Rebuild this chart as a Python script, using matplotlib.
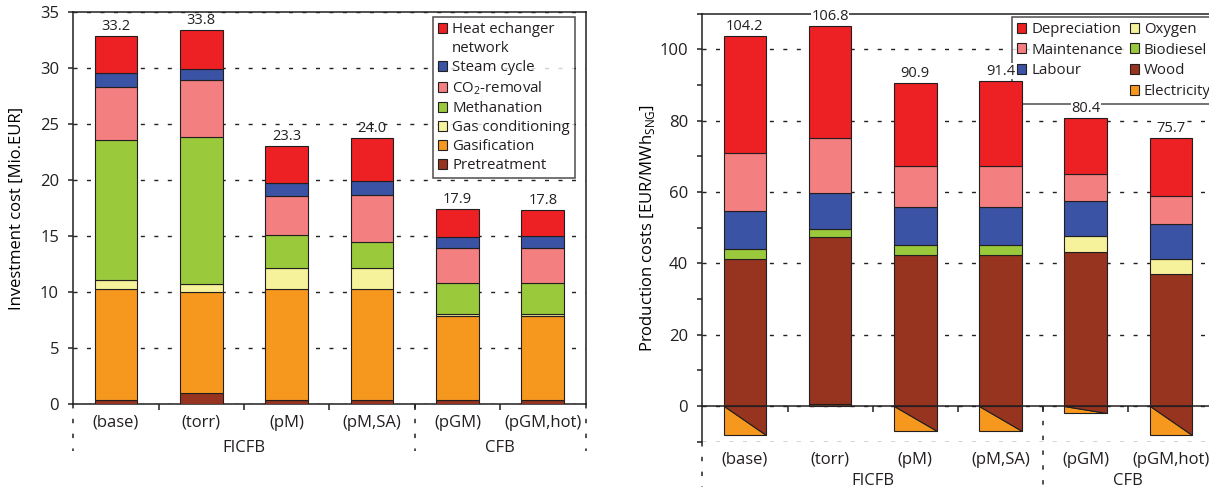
import matplotlib
matplotlib.use("Agg")
import matplotlib.pyplot as plt
import matplotlib.transforms as mtransforms
from matplotlib.patches import Patch
import numpy as np

plt.rcParams['font.family'] = ['Open Sans', 'DejaVu Sans']
plt.rcParams['text.color'] = '#231f20'
plt.rcParams['xtick.color'] = '#231f20'
plt.rcParams['ytick.color'] = '#231f20'
plt.rcParams['axes.edgecolor'] = '#231f20'

# ---- data ----
categories = ['(base)', '(torr)', '(pM)', '(pM,SA)', '(pGM)', '(pGM,hot)']
group_of = ['FICFB', 'FICFB', 'FICFB', 'FICFB', 'CFB', 'CFB']

# investment cost [Mio.EUR], stacked bottom -> top
pretreatment = [0.4, 1.05, 0.4, 0.4, 0.4, 0.4]
gasification = [9.9, 8.95, 9.9, 9.9, 7.5, 7.5]
gas_conditioning = [0.8, 0.75, 1.9, 1.9, 0.2, 0.2]
methanation = [12.5, 13.15, 2.9, 2.3, 2.7, 2.7]
co2_removal = [4.75, 5.05, 3.5, 4.15, 3.15, 3.15]
steam_cycle = [1.2, 1.0, 1.2, 1.25, 0.95, 1.05]
heat_exchanger = [3.35, 3.5, 3.25, 3.9, 2.55, 2.35]
invest_totals = ['33.2', '33.8', '23.3', '24.0', '17.9', '17.8']

# production costs [EUR/MWh_SNG], stacked bottom -> top
electricity = [0, 0.6, 0, 0, 0, 0]
wood = [41.3, 46.7, 42.4, 42.2, 43.1, 36.9]
oxygen = [0, 0, 0, 0, 4.6, 4.4]
biodiesel = [2.8, 2.3, 2.7, 2.9, 0, 0]
labour = [10.7, 10.1, 10.8, 10.6, 9.9, 9.8]
maintenance = [16.0, 15.5, 11.4, 11.7, 7.5, 7.8]
depreciation = [33.0, 31.4, 23.3, 23.7, 15.6, 16.3]
credit = [-8.2, 0, -7.1, -7.1, -1.9, -8.2]   # electricity / wood credit below zero
prod_totals = ['104.2', '106.8', '90.9', '91.4', '80.4', '75.7']

RED = '#ed2024'
BLUE = '#3a53a4'
PINK = '#f37f81'
GREEN = '#9aca3c'
YELLOW = '#f6f29b'
ORANGE = '#f6981e'
BROWN = '#97341f'
EDGE = '#231f20'

invest_stack = [(pretreatment, BROWN, 'Pretreatment'),
                (gasification, ORANGE, 'Gasification'),
                (gas_conditioning, YELLOW, 'Gas conditioning'),
                (methanation, GREEN, 'Methanation'),
                (co2_removal, PINK, 'CO$_\\mathregular{2}$-removal'),
                (steam_cycle, BLUE, 'Steam cycle'),
                (heat_exchanger, RED, 'Heat echanger')]

prod_stack = [(electricity, ORANGE, 'Electricity'),
              (wood, BROWN, 'Wood'),
              (oxygen, YELLOW, 'Oxygen'),
              (biodiesel, GREEN, 'Biodiesel'),
              (labour, BLUE, 'Labour'),
              (maintenance, PINK, 'Maintenance'),
              (depreciation, RED, 'Depreciation')]
prod_legend_order = ['Depreciation', 'Maintenance', 'Labour', '',
                     'Oxygen', 'Biodiesel', 'Wood', 'Electricity']

W = 0.5
DOT = (0, (2.9, 6.8))
FS = 12

fig = plt.figure(figsize=(12.09, 4.93), dpi=100)
ax1 = fig.add_axes([73.3/1209, (493-404.3)/493, 512.2/1209, 392/493])
ax2 = fig.add_axes([702.3/1209, (493-441.7)/493, 511.2/1209, 428.1/493])

x = np.arange(len(categories))
boundaries = x[:-1] + 0.5
group_names = list(dict.fromkeys(group_of))
group_centers = [np.mean([i for i, g in enumerate(group_of) if g == n]) for n in group_names]
group_breaks = [i + 0.5 for i in range(len(group_of) - 1) if group_of[i] != group_of[i+1]]


def style_axes(ax, xpad):
    ax.set_xlim(-0.5, len(categories) - 0.5)
    for s in ax.spines.values():
        s.set_linewidth(1.1)
    ax.set_xticks(x)
    ax.set_xticklabels(categories)
    ax.set_xticks(boundaries, minor=True)
    ax.tick_params(axis='x', which='major', length=0, pad=xpad, labelsize=FS)
    ax.tick_params(axis='x', which='minor', direction='out', length=4, width=1.1)
    ax.tick_params(axis='y', which='both', direction='out', length=3.8, width=1.1,
                   labelsize=FS, pad=6.5)
    ax.set_axisbelow(True)


def separators(ax, y_top, y_bot):
    tr = mtransforms.blended_transform_factory(ax.transData, ax.transAxes)
    for xs, yt in [(-0.5, y_bot[0])] + [(b, y_top) for b in group_breaks] + [(len(categories) - 0.5, y_top)]:
        ax.plot([xs, xs], [yt, y_bot[1]], transform=tr, color=EDGE, lw=1.1,
                ls=DOT, clip_on=False)
    for n, c in zip(group_names, group_centers):
        ax.text(c, y_bot[2], n, transform=tr, ha='center', va='center', fontsize=FS)


def legend_style(leg):
    leg.get_frame().set_edgecolor(EDGE)
    leg.get_frame().set_linewidth(1.1)


LEG_KW = dict(borderaxespad=0, fontsize=10.8, frameon=True, fancybox=False,
              handlelength=0.6, handleheight=0.65, handletextpad=0.35, borderpad=0.35)

# ---- left: investment cost ----
bottom = np.zeros(len(categories))
for vals, col, lab in invest_stack:
    ax1.bar(x, vals, W, bottom=bottom, color=col, edgecolor=EDGE, linewidth=0.8, zorder=3)
    bottom += np.array(vals)
for xi, top, t in zip(x, bottom, invest_totals):
    ax1.text(xi, top + 0.15, t, ha='center', va='bottom', fontsize=10.5, zorder=5)

ax1.set_ylim(0, 35)
ax1.set_yticks(range(0, 36, 5))
ax1.yaxis.grid(True, color=EDGE, lw=1.0, ls=DOT)
style_axes(ax1, 7.5)
ax1.set_ylabel('Investment cost [Mio.EUR]', fontsize=FS)
ax1.yaxis.set_label_coords(-0.094, 0.5)
separators(ax1, 0.0, (0.0, -0.118, -0.112))

h1 = [Patch(facecolor=c, edgecolor=EDGE, lw=0.8, label=l) for v, c, l in invest_stack[::-1]]
h1.insert(1, Patch(facecolor='none', edgecolor='none', label='network'))
leg1 = ax1.legend(handles=h1, loc='upper right', bbox_to_anchor=(0.9795, 0.9888),
                  labelspacing=0.27, **LEG_KW)
legend_style(leg1)

# ---- right: production costs ----
bottom = np.zeros(len(categories))
for vals, col, lab in prod_stack:
    v = np.array(vals, dtype=float)
    m = v > 0
    ax2.bar(x[m], v[m], W, bottom=bottom[m], color=col, edgecolor=EDGE, linewidth=0.8, zorder=3)
    bottom += v
for xi, c in zip(x, credit):
    if c < 0:
        l, r = xi - W/2, xi + W/2
        ax2.fill([l, l, r], [0, c, c], facecolor=ORANGE, edgecolor=EDGE, lw=0.8, zorder=3)
        ax2.fill([l, r, r], [0, 0, c], facecolor=BROWN, edgecolor=EDGE, lw=0.8, zorder=3)
for xi, top, t in zip(x, bottom, prod_totals):
    ax2.text(xi, top + 0.6, t, ha='center', va='bottom', fontsize=10.5, zorder=6,
             bbox=dict(facecolor='white', edgecolor='none', pad=0.3))

ax2.set_ylim(-10, 110)
ax2.set_yticks(range(0, 101, 20))
ax2.set_yticks(range(-10, 111, 20), minor=True)
ax2.yaxis.grid(True, which='major', color=EDGE, lw=1.0, ls=DOT)
ax2.axhline(-10, color=EDGE, lw=1.0, ls=DOT, zorder=0.5)
ax2.spines['bottom'].set_position(('data', 0))
ax2.spines['bottom'].set_zorder(4)
style_axes(ax2, 33)
ax2.set_ylabel('Production costs [EUR/MWh$_\\mathregular{SNG}$]', fontsize=FS)
ax2.yaxis.set_label_coords(-0.088, 0.5)
separators(ax2, 10/120, (0.0, -0.106, -0.092))

colors_by_name = {l: c for v, c, l in prod_stack}
h2 = [Patch(facecolor=colors_by_name[n], edgecolor=EDGE, lw=0.8, label=n) if n
      else Patch(facecolor='none', edgecolor='none', label='') for n in prod_legend_order]
leg2 = ax2.legend(handles=h2, loc='upper left', bbox_to_anchor=(0.6058, 0.9928), ncol=2,
                  columnspacing=0.45, labelspacing=0.38, **LEG_KW)
legend_style(leg2)
leg2.set_zorder(2.8)

fig.savefig('out.png', dpi=100)
